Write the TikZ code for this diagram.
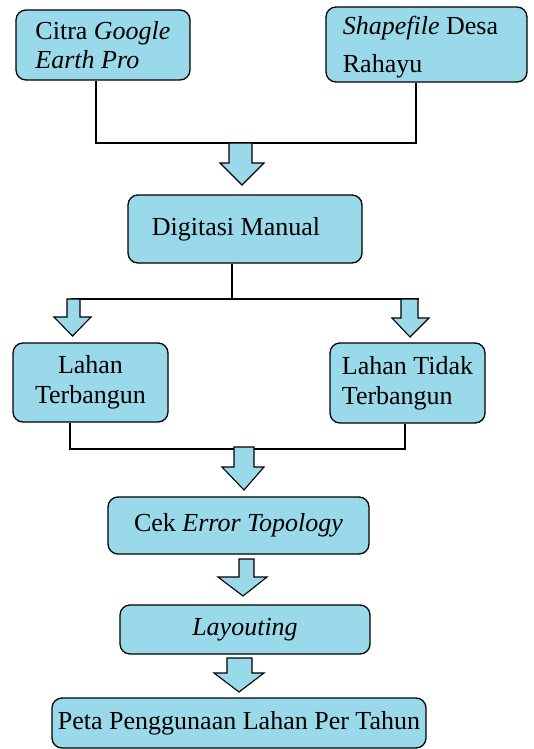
\documentclass[tikz,border=0pt]{standalone}
\usepackage{fontspec}
\setmainfont{Liberation Serif}
\definecolor{boxblue}{RGB}{153,217,234}
\tikzset{
  flowbox/.style={draw=black, line width=1.3pt, fill=boxblue, rounded corners=10pt,
    inner sep=0pt, font=\fontsize{26}{30}\selectfont},
  joinline/.style={draw=black, line width=1.2pt},
  blockarr/.style={draw=black, line width=1.1pt, fill=boxblue, line join=miter}
}
\begin{document}
\begin{tikzpicture}[x=1pt, y=-1pt]
\useasboundingbox (0,0) rectangle (534,749);
% boxes
\node[flowbox, minimum width=174pt, minimum height=70pt, align=left]
  (b1) at (103,45) {Citra \textit{Google}\\[-1pt]\textit{Earth Pro}};
\node[flowbox, minimum width=201pt, minimum height=75pt, align=left]
  (b2) at (426.5,44.5) {\raisebox{0pt}[24pt][0pt]{}\textit{Shapefile} Desa\rule{12pt}{0pt}\\[8pt]Rahayu};
\node[flowbox, minimum width=234pt, minimum height=68pt] (b3) at (245,229) {Digitasi Manual\rule{18pt}{0pt}};
\node[flowbox, minimum width=155pt, minimum height=79pt, align=center] (b4) at (90.5,382.5) {Lahan\\Terbangun};
\node[flowbox, minimum width=155pt, minimum height=80pt, align=left] (b5) at (407.5,383) {Lahan Tidak\\Terbangun};
\node[flowbox, minimum width=261pt, minimum height=57pt] (b6) at (238.5,525.5) {Cek \textit{Error Topology}};
\node[flowbox, minimum width=250pt, minimum height=49pt] (b7) at (245,629.5) {\textit{Layouting}};
\node[flowbox, minimum width=374pt, minimum height=50pt] (b8) at (239,723) {Peta Penggunaan Lahan Per Tahun};
% junction coordinates
\coordinate (j1) at (96,143);
\coordinate (j2) at (416,143);
\coordinate (j3) at (232,299);
\coordinate (j3l) at (71,299);
\coordinate (j3r) at (419,299);
\coordinate (j4) at (70,449);
\coordinate (j5) at (405,449);
% connector lines
\draw[joinline] (b1.south -| j1) -- (j1) -- (j2) -- (b2.south -| j2);
\draw[joinline] (b3.south -| j3) -- (j3);
\draw[joinline] (j3l) -- (j3r);
\draw[joinline] (b4.south -| j4) -- (j4) -- (j5) -- (b5.south -| j5);
% block arrows
\draw[blockarr] (229,143) -- (252,143) -- (252,163) -- (264,163) -- (242,185) -- (220,163) -- (229,163) -- cycle;
\draw[blockarr] (67,299) -- (80,299) -- (80,317) -- (91,317) -- (72.5,336) -- (54,317) -- (67,317) -- cycle;
\draw[blockarr] (401,299) -- (418,299) -- (418,318) -- (429,318) -- (410,337) -- (392,318) -- (401,318) -- cycle;
\draw[blockarr] (234,447) -- (254,447) -- (254,467) -- (264,467) -- (244,490) -- (222,467) -- (234,467) -- cycle;
\draw[blockarr] (239,559) -- (254,559) -- (254,577) -- (267,577) -- (243,596) -- (218,577) -- (239,577) -- cycle;
\draw[blockarr] (227,658) -- (252,658) -- (252,673) -- (264,673) -- (239,692) -- (214,673) -- (227,673) -- cycle;
\end{tikzpicture}
\end{document}
